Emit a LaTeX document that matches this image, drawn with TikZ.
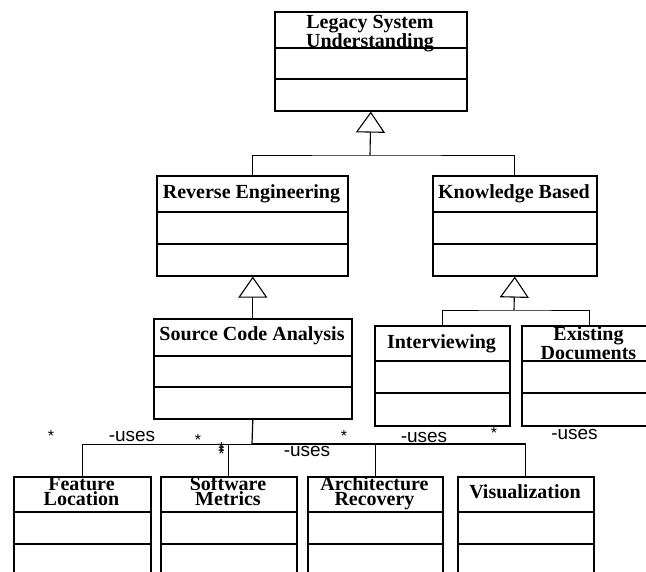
\documentclass[tikz,border=0pt]{standalone}
\usepackage{fontspec}
\setmainfont{Liberation Serif}
\newfontfamily\lsans{Liberation Sans}
\usetikzlibrary{arrows.meta}
\tikzset{
  clsbox/.style={draw, line width=1.6pt, inner sep=0pt, anchor=north west},
  clsline/.style={line width=1.6pt},
  ttl/.style={inner sep=0pt, align=center, font=\bfseries\fontsize{20}{15}\selectfont},
  ttltwo/.style={ttl, anchor=north},
  ttlone/.style={ttl, anchor=base},
  conn/.style={line width=0.9pt},
  hub/.style={line width=1.2pt},
  gen/.style={line width=1.1pt, -{Triangle[open, length=21pt, width=29pt, fill=white]}},
  lbl/.style={inner sep=0pt, anchor=base, font=\lsans\fontsize{19}{19}\selectfont},
  star/.style={inner sep=0pt, anchor=base, font=\lsans\fontsize{16}{16}\selectfont}
}
\newcommand\umlcls[7]{%
  \node[clsbox, minimum width=#4pt, minimum height=#7pt] (#1) at (#2,#3) {};
  \draw[clsline] ([yshift=-#5pt]#1.north west) -- ([yshift=-#5pt]#1.north east);
  \draw[clsline] ([yshift=-#6pt]#1.north west) -- ([yshift=-#6pt]#1.north east);
}
\begin{document}
\begin{tikzpicture}[x=1pt,y=-1pt]
\useasboundingbox (0,0) rectangle (646,571);
\fill[white] (0,0) rectangle (646,571);
\clip (0,0) rectangle (646,571);

% classes
\umlcls{leg}{274}{11}{192}{37}{68}{99}
\umlcls{rev}{156}{175}{191}{37}{69}{100}
\umlcls{kb}{432}{175}{164}{37}{69}{100}
\umlcls{sca}{153}{318}{198}{38}{69}{100}
\umlcls{intv}{374}{325}{135}{36}{68}{100}
\umlcls{exd}{521}{325}{135}{36}{68}{100}
\umlcls{fl}{13}{476}{137}{36}{68}{100}
\umlcls{sm}{160}{476}{136}{36}{68}{100}
\umlcls{ar}{307}{476}{135}{36}{68}{100}
\umlcls{vis}{457}{476}{136}{36}{68}{100}

% titles
\node[ttltwo, font=\bfseries\fontsize{20}{14}\selectfont] (legT) at (370,14.7) {Legacy System\\Understanding};
\node[ttlone] (revT) at (251.5,198) {Reverse Engineering};
\node[ttlone] (kbT) at (514,198) {Knowledge Based};
\node[ttlone] (scaT) at (252,340) {Source Code Analysis};
\node[ttlone] (intvT) at (441.5,348) {Interviewing};
\node[ttltwo] (exdT) at (588.5,326.7) {Existing\\Documents};
\node[ttltwo] (flT) at (81.5,476.7) {Feature\\Location};
\node[ttltwo] (smT) at (228,476.7) {Software\\Metrics};
\node[ttltwo] (arT) at (374.5,476.7) {Architecture\\Recovery};
\node[ttlone] (visT) at (525,498) {Visualization};

% generalization: legacy
\coordinate (j1) at (370,155);
\draw[conn] (rev.north) |- (j1) -| (kb.north);
\draw[gen] (j1) -- (leg.south);

% generalization: reverse engineering
\draw[gen] (sca.north) -- (sca.north |- rev.south);

% generalization: knowledge based
\coordinate (j2) at (514,310);
\draw[conn] (intv.north) |- (j2) -| (exd.north);
\draw[gen] (j2) -- (kb.south);

% associations: source code analysis uses ...
\coordinate (j3) at (252,444);
\draw[hub] (sca.south) -- (j3);
\draw[conn] (fl.north) |- (j3);
\draw[hub] (j3) -| (vis.north);
\draw[conn] (sm.north) -- (sm.north |- j3);
\draw[conn] (ar.north) -- (ar.north |- j3);

% association labels
\node[star] (s1) at (51,441) {*};
\node[lbl] (u1) at (132,441) {-uses};
\node[star] (s2) at (198,445) {*};
\node[star] (s3) at (221.5,453) {*};
\node[star] (s4) at (221.5,456) {*};
\node[star] (s5) at (221.5,459) {*};
\node[lbl] (u2) at (307,456) {-uses};
\node[star] (s6) at (344,441) {*};
\node[lbl] (u3) at (424,442) {-uses};
\node[star] (s7) at (494,438) {*};
\node[lbl] (u4) at (574.5,439) {-uses};
\end{tikzpicture}
\end{document}
